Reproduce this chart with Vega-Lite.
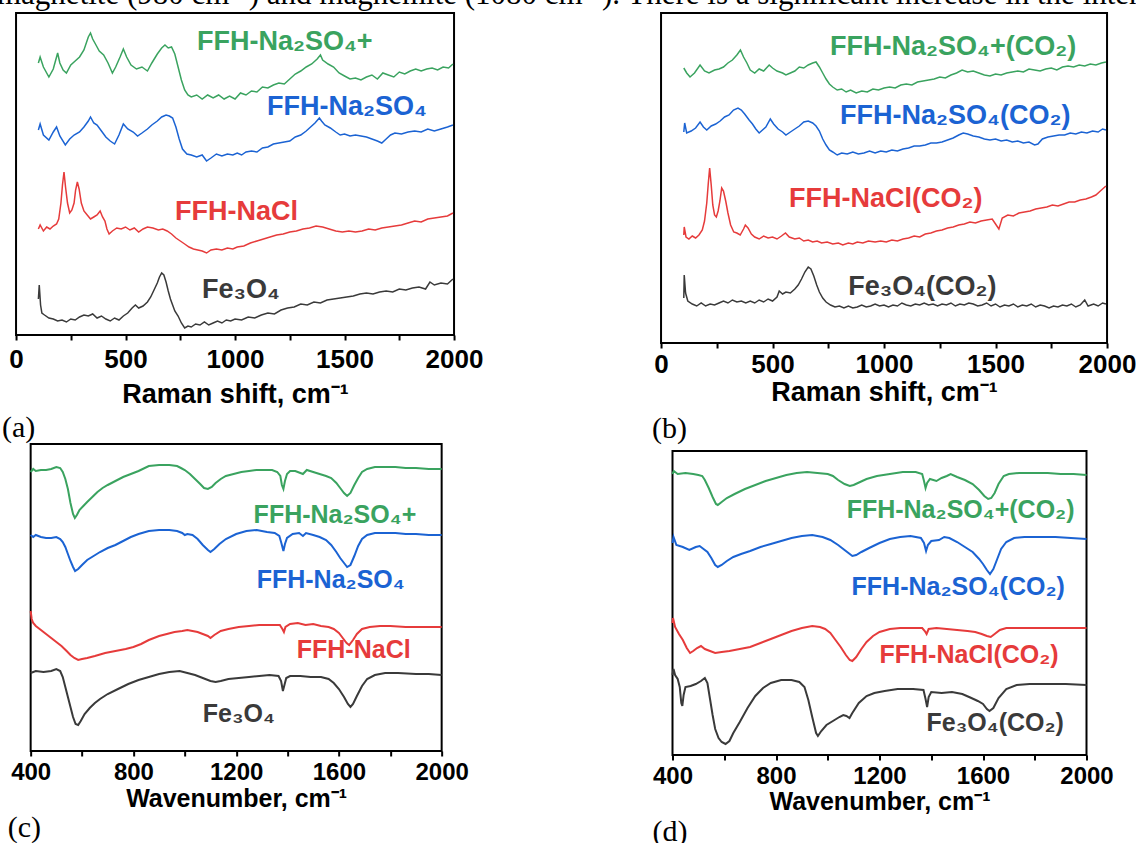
{
"$schema":"https://vega.github.io/schema/vega-lite/v6.json",
"background":"white",
"padding":{"left":-3,"top":-21,"right":0,"bottom":-4},
"title":{"text":"magnetite (980 cm⁻¹) and maghemite (1080 cm⁻¹). There is a significant increase in the intens","anchor":"start","frame":"group","dx":-19,"fontSize":31,"baseline":"alphabetic","offset":-23},
"config":{
"view":{"stroke":"black","strokeWidth":2},
"axis":{"labelFont":"Liberation Sans","labelFontWeight":"bold","labelColor":"black","titleFont":"Liberation Sans","titleFontWeight":"bold","titleColor":"black","tickColor":"black","tickWidth":2,"tickSize":5,"domain":false,"grid":false,"labelFlush":false,"labelOverlap":false},
"title":{"font":"Liberation Serif","fontWeight":"normal","color":"black"}
},
"datasets":{
"ra":[
{"x":102,"y":272,"s":"g"},{"x":110,"y":278,"s":"g"},{"x":125,"y":268,"s":"g"},{"x":150,"y":258,"s":"g"},{"x":170,"y":266,"s":"g"},{"x":190,"y":282,"s":"g"},{"x":200,"y":272,"s":"g"},{"x":215,"y":265,"s":"g"},{"x":230,"y":262,"s":"g"},{"x":250,"y":270,"s":"g"},{"x":270,"y":274,"s":"g"},{"x":290,"y":278,"s":"g"},{"x":310,"y":285,"s":"g"},{"x":330,"y":298,"s":"g"},{"x":340,"y":302,"s":"g"},{"x":350,"y":296,"s":"g"},{"x":365,"y":290,"s":"g"},{"x":380,"y":284,"s":"g"},{"x":400,"y":280,"s":"g"},{"x":420,"y":272,"s":"g"},{"x":440,"y":262,"s":"g"},{"x":455,"y":268,"s":"g"},{"x":475,"y":278,"s":"g"},{"x":490,"y":286,"s":"g"},{"x":505,"y":278,"s":"g"},{"x":525,"y":270,"s":"g"},{"x":550,"y":266,"s":"g"},{"x":575,"y":268,"s":"g"},{"x":600,"y":264,"s":"g"},{"x":620,"y":272,"s":"g"},{"x":645,"y":281,"s":"g"},{"x":665,"y":287,"s":"g"},{"x":680,"y":290,"s":"g"},{"x":695,"y":287,"s":"g"},{"x":710,"y":288,"s":"g"},{"x":725,"y":281,"s":"g"},{"x":740,"y":268,"s":"g"},{"x":755,"y":255,"s":"g"},{"x":770,"y":245,"s":"g"},{"x":785,"y":240,"s":"g"},{"x":800,"y":238,"s":"g"},{"x":825,"y":240,"s":"g"},{"x":850,"y":236,"s":"g"},{"x":875,"y":240,"s":"g"},{"x":900,"y":237,"s":"g"},{"x":925,"y":240,"s":"g"},{"x":950,"y":236,"s":"g"},{"x":975,"y":239,"s":"g"},{"x":1000,"y":236,"s":"g"},{"x":1025,"y":242,"s":"g"},{"x":1050,"y":240,"s":"g"},{"x":1075,"y":244,"s":"g"},{"x":1100,"y":243,"s":"g"},{"x":1125,"y":248,"s":"g"},{"x":1150,"y":247,"s":"g"},{"x":1175,"y":250,"s":"g"},{"x":1200,"y":252,"s":"g"},{"x":1225,"y":251,"s":"g"},{"x":1250,"y":256,"s":"g"},{"x":1275,"y":261,"s":"g"},{"x":1300,"y":264,"s":"g"},{"x":1325,"y":268,"s":"g"},{"x":1350,"y":271,"s":"g"},{"x":1375,"y":276,"s":"g"},{"x":1390,"y":280,"s":"g"},{"x":1400,"y":275,"s":"g"},{"x":1425,"y":271,"s":"g"},{"x":1450,"y":268,"s":"g"},{"x":1475,"y":262,"s":"g"},{"x":1500,"y":259,"s":"g"},{"x":1525,"y":256,"s":"g"},{"x":1550,"y":257,"s":"g"},{"x":1575,"y":255,"s":"g"},{"x":1600,"y":258,"s":"g"},{"x":1625,"y":260,"s":"g"},{"x":1650,"y":256,"s":"g"},{"x":1675,"y":262,"s":"g"},{"x":1700,"y":260,"s":"g"},{"x":1725,"y":258,"s":"g"},{"x":1750,"y":263,"s":"g"},{"x":1775,"y":261,"s":"g"},{"x":1800,"y":264,"s":"g"},{"x":1825,"y":266,"s":"g"},{"x":1850,"y":264,"s":"g"},{"x":1875,"y":266,"s":"g"},{"x":1900,"y":267,"s":"g"},{"x":1925,"y":265,"s":"g"},{"x":1950,"y":268,"s":"g"},{"x":1975,"y":267,"s":"g"},{"x":1995,"y":271,"s":"g"},
{"x":102,"y":205,"s":"b"},{"x":110,"y":211,"s":"b"},{"x":125,"y":200,"s":"b"},{"x":150,"y":195,"s":"b"},{"x":170,"y":203,"s":"b"},{"x":185,"y":208,"s":"b"},{"x":200,"y":199,"s":"b"},{"x":225,"y":190,"s":"b"},{"x":245,"y":196,"s":"b"},{"x":265,"y":200,"s":"b"},{"x":290,"y":203,"s":"b"},{"x":310,"y":208,"s":"b"},{"x":330,"y":214,"s":"b"},{"x":340,"y":218,"s":"b"},{"x":355,"y":212,"s":"b"},{"x":370,"y":210,"s":"b"},{"x":390,"y":204,"s":"b"},{"x":410,"y":198,"s":"b"},{"x":430,"y":194,"s":"b"},{"x":450,"y":191,"s":"b"},{"x":470,"y":200,"s":"b"},{"x":490,"y":211,"s":"b"},{"x":510,"y":206,"s":"b"},{"x":535,"y":203,"s":"b"},{"x":555,"y":199,"s":"b"},{"x":575,"y":202,"s":"b"},{"x":600,"y":206,"s":"b"},{"x":620,"y":210,"s":"b"},{"x":645,"y":214,"s":"b"},{"x":665,"y":218,"s":"b"},{"x":685,"y":220,"s":"b"},{"x":700,"y":219,"s":"b"},{"x":715,"y":217,"s":"b"},{"x":730,"y":208,"s":"b"},{"x":745,"y":196,"s":"b"},{"x":760,"y":186,"s":"b"},{"x":780,"y":181,"s":"b"},{"x":800,"y":180,"s":"b"},{"x":825,"y":178,"s":"b"},{"x":850,"y":180,"s":"b"},{"x":870,"y":174,"s":"b"},{"x":890,"y":177,"s":"b"},{"x":915,"y":181,"s":"b"},{"x":940,"y":179,"s":"b"},{"x":965,"y":181,"s":"b"},{"x":990,"y":180,"s":"b"},{"x":1010,"y":182,"s":"b"},{"x":1030,"y":180,"s":"b"},{"x":1050,"y":183,"s":"b"},{"x":1075,"y":184,"s":"b"},{"x":1100,"y":183,"s":"b"},{"x":1125,"y":187,"s":"b"},{"x":1150,"y":188,"s":"b"},{"x":1175,"y":191,"s":"b"},{"x":1200,"y":192,"s":"b"},{"x":1225,"y":193,"s":"b"},{"x":1250,"y":194,"s":"b"},{"x":1275,"y":198,"s":"b"},{"x":1300,"y":200,"s":"b"},{"x":1325,"y":204,"s":"b"},{"x":1345,"y":208,"s":"b"},{"x":1365,"y":212,"s":"b"},{"x":1385,"y":217,"s":"b"},{"x":1395,"y":214,"s":"b"},{"x":1410,"y":210,"s":"b"},{"x":1435,"y":207,"s":"b"},{"x":1460,"y":203,"s":"b"},{"x":1480,"y":200,"s":"b"},{"x":1500,"y":201,"s":"b"},{"x":1525,"y":199,"s":"b"},{"x":1550,"y":200,"s":"b"},{"x":1575,"y":199,"s":"b"},{"x":1600,"y":198,"s":"b"},{"x":1625,"y":196,"s":"b"},{"x":1650,"y":194,"s":"b"},{"x":1670,"y":192,"s":"b"},{"x":1690,"y":196,"s":"b"},{"x":1710,"y":200,"s":"b"},{"x":1730,"y":202,"s":"b"},{"x":1760,"y":201,"s":"b"},{"x":1790,"y":203,"s":"b"},{"x":1820,"y":204,"s":"b"},{"x":1850,"y":203,"s":"b"},{"x":1880,"y":206,"s":"b"},{"x":1910,"y":204,"s":"b"},{"x":1940,"y":206,"s":"b"},{"x":1970,"y":208,"s":"b"},{"x":1995,"y":210,"s":"b"},
{"x":102,"y":106,"s":"r"},{"x":110,"y":110,"s":"r"},{"x":125,"y":104,"s":"r"},{"x":140,"y":108,"s":"r"},{"x":155,"y":106,"s":"r"},{"x":170,"y":109,"s":"r"},{"x":185,"y":111,"s":"r"},{"x":195,"y":116,"s":"r"},{"x":205,"y":132,"s":"r"},{"x":212,"y":150,"s":"r"},{"x":219,"y":163,"s":"r"},{"x":226,"y":148,"s":"r"},{"x":235,"y":132,"s":"r"},{"x":245,"y":122,"s":"r"},{"x":255,"y":125,"s":"r"},{"x":265,"y":132,"s":"r"},{"x":272,"y":145,"s":"r"},{"x":280,"y":153,"s":"r"},{"x":288,"y":146,"s":"r"},{"x":298,"y":132,"s":"r"},{"x":310,"y":124,"s":"r"},{"x":325,"y":120,"s":"r"},{"x":340,"y":116,"s":"r"},{"x":355,"y":118,"s":"r"},{"x":370,"y":120,"s":"r"},{"x":384,"y":124,"s":"r"},{"x":395,"y":118,"s":"r"},{"x":406,"y":114,"s":"r"},{"x":415,"y":106,"s":"r"},{"x":425,"y":101,"s":"r"},{"x":440,"y":104,"s":"r"},{"x":460,"y":107,"s":"r"},{"x":480,"y":106,"s":"r"},{"x":500,"y":108,"s":"r"},{"x":520,"y":105,"s":"r"},{"x":540,"y":107,"s":"r"},{"x":560,"y":103,"s":"r"},{"x":580,"y":106,"s":"r"},{"x":600,"y":108,"s":"r"},{"x":625,"y":107,"s":"r"},{"x":650,"y":105,"s":"r"},{"x":670,"y":106,"s":"r"},{"x":690,"y":104,"s":"r"},{"x":710,"y":101,"s":"r"},{"x":730,"y":97,"s":"r"},{"x":750,"y":94,"s":"r"},{"x":770,"y":91,"s":"r"},{"x":790,"y":88,"s":"r"},{"x":810,"y":86,"s":"r"},{"x":830,"y":85,"s":"r"},{"x":850,"y":84,"s":"r"},{"x":870,"y":82,"s":"r"},{"x":890,"y":85,"s":"r"},{"x":915,"y":86,"s":"r"},{"x":940,"y":85,"s":"r"},{"x":965,"y":87,"s":"r"},{"x":990,"y":86,"s":"r"},{"x":1010,"y":88,"s":"r"},{"x":1040,"y":89,"s":"r"},{"x":1070,"y":92,"s":"r"},{"x":1100,"y":94,"s":"r"},{"x":1130,"y":96,"s":"r"},{"x":1160,"y":98,"s":"r"},{"x":1190,"y":100,"s":"r"},{"x":1220,"y":101,"s":"r"},{"x":1250,"y":103,"s":"r"},{"x":1280,"y":104,"s":"r"},{"x":1310,"y":106,"s":"r"},{"x":1340,"y":107,"s":"r"},{"x":1370,"y":109,"s":"r"},{"x":1400,"y":108,"s":"r"},{"x":1430,"y":106,"s":"r"},{"x":1460,"y":104,"s":"r"},{"x":1490,"y":103,"s":"r"},{"x":1520,"y":104,"s":"r"},{"x":1550,"y":103,"s":"r"},{"x":1580,"y":104,"s":"r"},{"x":1610,"y":106,"s":"r"},{"x":1640,"y":105,"s":"r"},{"x":1670,"y":107,"s":"r"},{"x":1700,"y":108,"s":"r"},{"x":1730,"y":109,"s":"r"},{"x":1760,"y":110,"s":"r"},{"x":1790,"y":112,"s":"r"},{"x":1820,"y":114,"s":"r"},{"x":1850,"y":113,"s":"r"},{"x":1880,"y":116,"s":"r"},{"x":1910,"y":117,"s":"r"},{"x":1940,"y":118,"s":"r"},{"x":1970,"y":119,"s":"r"},{"x":1995,"y":122,"s":"r"},
{"x":102,"y":36,"s":"k"},{"x":106,"y":50,"s":"k"},{"x":112,"y":30,"s":"k"},{"x":118,"y":22,"s":"k"},{"x":130,"y":20,"s":"k"},{"x":150,"y":17,"s":"k"},{"x":170,"y":16,"s":"k"},{"x":190,"y":14,"s":"k"},{"x":210,"y":15,"s":"k"},{"x":230,"y":13,"s":"k"},{"x":250,"y":16,"s":"k"},{"x":270,"y":15,"s":"k"},{"x":290,"y":18,"s":"k"},{"x":310,"y":20,"s":"k"},{"x":330,"y":19,"s":"k"},{"x":350,"y":21,"s":"k"},{"x":370,"y":17,"s":"k"},{"x":390,"y":19,"s":"k"},{"x":410,"y":16,"s":"k"},{"x":430,"y":14,"s":"k"},{"x":450,"y":17,"s":"k"},{"x":470,"y":15,"s":"k"},{"x":490,"y":19,"s":"k"},{"x":510,"y":22,"s":"k"},{"x":530,"y":27,"s":"k"},{"x":545,"y":30,"s":"k"},{"x":560,"y":27,"s":"k"},{"x":580,"y":29,"s":"k"},{"x":600,"y":33,"s":"k"},{"x":615,"y":38,"s":"k"},{"x":630,"y":45,"s":"k"},{"x":645,"y":52,"s":"k"},{"x":655,"y":58,"s":"k"},{"x":665,"y":62,"s":"k"},{"x":675,"y":60,"s":"k"},{"x":685,"y":53,"s":"k"},{"x":695,"y":44,"s":"k"},{"x":705,"y":36,"s":"k"},{"x":715,"y":30,"s":"k"},{"x":725,"y":24,"s":"k"},{"x":740,"y":19,"s":"k"},{"x":755,"y":12,"s":"k"},{"x":770,"y":7,"s":"k"},{"x":785,"y":9,"s":"k"},{"x":800,"y":8,"s":"k"},{"x":820,"y":11,"s":"k"},{"x":840,"y":10,"s":"k"},{"x":860,"y":13,"s":"k"},{"x":880,"y":10,"s":"k"},{"x":900,"y":12,"s":"k"},{"x":920,"y":14,"s":"k"},{"x":940,"y":12,"s":"k"},{"x":960,"y":15,"s":"k"},{"x":980,"y":14,"s":"k"},{"x":1000,"y":16,"s":"k"},{"x":1030,"y":15,"s":"k"},{"x":1060,"y":18,"s":"k"},{"x":1090,"y":17,"s":"k"},{"x":1120,"y":20,"s":"k"},{"x":1150,"y":22,"s":"k"},{"x":1180,"y":21,"s":"k"},{"x":1210,"y":25,"s":"k"},{"x":1240,"y":27,"s":"k"},{"x":1270,"y":28,"s":"k"},{"x":1300,"y":31,"s":"k"},{"x":1330,"y":30,"s":"k"},{"x":1360,"y":33,"s":"k"},{"x":1390,"y":32,"s":"k"},{"x":1420,"y":35,"s":"k"},{"x":1450,"y":36,"s":"k"},{"x":1480,"y":37,"s":"k"},{"x":1510,"y":38,"s":"k"},{"x":1540,"y":39,"s":"k"},{"x":1570,"y":41,"s":"k"},{"x":1600,"y":42,"s":"k"},{"x":1630,"y":41,"s":"k"},{"x":1660,"y":43,"s":"k"},{"x":1690,"y":44,"s":"k"},{"x":1720,"y":43,"s":"k"},{"x":1750,"y":46,"s":"k"},{"x":1780,"y":45,"s":"k"},{"x":1810,"y":47,"s":"k"},{"x":1840,"y":48,"s":"k"},{"x":1870,"y":46,"s":"k"},{"x":1890,"y":53,"s":"k"},{"x":1910,"y":50,"s":"k"},{"x":1940,"y":52,"s":"k"},{"x":1970,"y":51,"s":"k"},{"x":1995,"y":56,"s":"k"}
],
"rb":[
{"x":102,"y":275,"s":"g"},{"x":115,"y":270,"s":"g"},{"x":130,"y":266,"s":"g"},{"x":150,"y":270,"s":"g"},{"x":175,"y":278,"s":"g"},{"x":195,"y":272,"s":"g"},{"x":215,"y":270,"s":"g"},{"x":240,"y":273,"s":"g"},{"x":260,"y":274,"s":"g"},{"x":280,"y":276,"s":"g"},{"x":300,"y":280,"s":"g"},{"x":320,"y":283,"s":"g"},{"x":340,"y":288,"s":"g"},{"x":356,"y":293,"s":"g"},{"x":370,"y":286,"s":"g"},{"x":385,"y":280,"s":"g"},{"x":400,"y":273,"s":"g"},{"x":420,"y":270,"s":"g"},{"x":440,"y":274,"s":"g"},{"x":460,"y":272,"s":"g"},{"x":485,"y":278,"s":"g"},{"x":500,"y":275,"s":"g"},{"x":520,"y":272,"s":"g"},{"x":545,"y":270,"s":"g"},{"x":560,"y":268,"s":"g"},{"x":580,"y":270,"s":"g"},{"x":600,"y":272,"s":"g"},{"x":620,"y":276,"s":"g"},{"x":640,"y":275,"s":"g"},{"x":660,"y":278,"s":"g"},{"x":680,"y":280,"s":"g"},{"x":695,"y":281,"s":"g"},{"x":710,"y":276,"s":"g"},{"x":725,"y":270,"s":"g"},{"x":740,"y":264,"s":"g"},{"x":755,"y":259,"s":"g"},{"x":770,"y":256,"s":"g"},{"x":790,"y":253,"s":"g"},{"x":810,"y":254,"s":"g"},{"x":830,"y":251,"s":"g"},{"x":850,"y":253,"s":"g"},{"x":875,"y":250,"s":"g"},{"x":900,"y":252,"s":"g"},{"x":925,"y":251,"s":"g"},{"x":950,"y":254,"s":"g"},{"x":975,"y":253,"s":"g"},{"x":1000,"y":255,"s":"g"},{"x":1025,"y":256,"s":"g"},{"x":1050,"y":255,"s":"g"},{"x":1075,"y":258,"s":"g"},{"x":1100,"y":259,"s":"g"},{"x":1125,"y":258,"s":"g"},{"x":1150,"y":261,"s":"g"},{"x":1175,"y":262,"s":"g"},{"x":1200,"y":263,"s":"g"},{"x":1225,"y":264,"s":"g"},{"x":1250,"y":266,"s":"g"},{"x":1275,"y":265,"s":"g"},{"x":1300,"y":268,"s":"g"},{"x":1325,"y":270,"s":"g"},{"x":1350,"y":273,"s":"g"},{"x":1375,"y":271,"s":"g"},{"x":1400,"y":272,"s":"g"},{"x":1425,"y":270,"s":"g"},{"x":1450,"y":268,"s":"g"},{"x":1475,"y":267,"s":"g"},{"x":1500,"y":269,"s":"g"},{"x":1525,"y":268,"s":"g"},{"x":1550,"y":270,"s":"g"},{"x":1575,"y":271,"s":"g"},{"x":1600,"y":272,"s":"g"},{"x":1625,"y":271,"s":"g"},{"x":1650,"y":274,"s":"g"},{"x":1675,"y":273,"s":"g"},{"x":1700,"y":272,"s":"g"},{"x":1725,"y":274,"s":"g"},{"x":1750,"y":275,"s":"g"},{"x":1775,"y":273,"s":"g"},{"x":1800,"y":276,"s":"g"},{"x":1825,"y":277,"s":"g"},{"x":1850,"y":276,"s":"g"},{"x":1875,"y":278,"s":"g"},{"x":1900,"y":277,"s":"g"},{"x":1925,"y":279,"s":"g"},{"x":1950,"y":278,"s":"g"},{"x":1975,"y":280,"s":"g"},{"x":1995,"y":281,"s":"g"},
{"x":102,"y":211,"s":"b"},{"x":106,"y":220,"s":"b"},{"x":115,"y":210,"s":"b"},{"x":135,"y":212,"s":"b"},{"x":155,"y":215,"s":"b"},{"x":175,"y":221,"s":"b"},{"x":190,"y":216,"s":"b"},{"x":205,"y":213,"s":"b"},{"x":225,"y":217,"s":"b"},{"x":245,"y":219,"s":"b"},{"x":265,"y":222,"s":"b"},{"x":285,"y":226,"s":"b"},{"x":305,"y":228,"s":"b"},{"x":325,"y":233,"s":"b"},{"x":345,"y":235,"s":"b"},{"x":360,"y":233,"s":"b"},{"x":375,"y":229,"s":"b"},{"x":395,"y":223,"s":"b"},{"x":410,"y":219,"s":"b"},{"x":425,"y":214,"s":"b"},{"x":440,"y":210,"s":"b"},{"x":455,"y":213,"s":"b"},{"x":470,"y":216,"s":"b"},{"x":490,"y":224,"s":"b"},{"x":505,"y":219,"s":"b"},{"x":525,"y":214,"s":"b"},{"x":545,"y":211,"s":"b"},{"x":560,"y":208,"s":"b"},{"x":580,"y":211,"s":"b"},{"x":600,"y":214,"s":"b"},{"x":620,"y":217,"s":"b"},{"x":640,"y":221,"s":"b"},{"x":660,"y":222,"s":"b"},{"x":680,"y":220,"s":"b"},{"x":695,"y":217,"s":"b"},{"x":710,"y":212,"s":"b"},{"x":725,"y":204,"s":"b"},{"x":740,"y":198,"s":"b"},{"x":755,"y":193,"s":"b"},{"x":770,"y":191,"s":"b"},{"x":790,"y":188,"s":"b"},{"x":810,"y":190,"s":"b"},{"x":835,"y":189,"s":"b"},{"x":860,"y":191,"s":"b"},{"x":885,"y":189,"s":"b"},{"x":910,"y":190,"s":"b"},{"x":935,"y":192,"s":"b"},{"x":960,"y":190,"s":"b"},{"x":985,"y":192,"s":"b"},{"x":1010,"y":191,"s":"b"},{"x":1035,"y":193,"s":"b"},{"x":1060,"y":192,"s":"b"},{"x":1085,"y":194,"s":"b"},{"x":1110,"y":195,"s":"b"},{"x":1135,"y":197,"s":"b"},{"x":1160,"y":197,"s":"b"},{"x":1185,"y":198,"s":"b"},{"x":1210,"y":200,"s":"b"},{"x":1235,"y":200,"s":"b"},{"x":1260,"y":201,"s":"b"},{"x":1285,"y":203,"s":"b"},{"x":1310,"y":205,"s":"b"},{"x":1335,"y":208,"s":"b"},{"x":1355,"y":210,"s":"b"},{"x":1375,"y":209,"s":"b"},{"x":1400,"y":207,"s":"b"},{"x":1425,"y":206,"s":"b"},{"x":1450,"y":204,"s":"b"},{"x":1475,"y":203,"s":"b"},{"x":1500,"y":204,"s":"b"},{"x":1525,"y":202,"s":"b"},{"x":1550,"y":203,"s":"b"},{"x":1575,"y":201,"s":"b"},{"x":1600,"y":202,"s":"b"},{"x":1625,"y":200,"s":"b"},{"x":1650,"y":201,"s":"b"},{"x":1675,"y":198,"s":"b"},{"x":1690,"y":199,"s":"b"},{"x":1710,"y":204,"s":"b"},{"x":1735,"y":206,"s":"b"},{"x":1760,"y":207,"s":"b"},{"x":1785,"y":208,"s":"b"},{"x":1810,"y":208,"s":"b"},{"x":1835,"y":210,"s":"b"},{"x":1860,"y":209,"s":"b"},{"x":1885,"y":211,"s":"b"},{"x":1910,"y":210,"s":"b"},{"x":1935,"y":212,"s":"b"},{"x":1960,"y":211,"s":"b"},{"x":1980,"y":214,"s":"b"},{"x":1995,"y":213,"s":"b"},
{"x":102,"y":108,"s":"r"},{"x":104,"y":116,"s":"r"},{"x":112,"y":106,"s":"r"},{"x":125,"y":104,"s":"r"},{"x":140,"y":107,"s":"r"},{"x":155,"y":105,"s":"r"},{"x":170,"y":108,"s":"r"},{"x":185,"y":113,"s":"r"},{"x":195,"y":122,"s":"r"},{"x":205,"y":140,"s":"r"},{"x":212,"y":160,"s":"r"},{"x":218,"y":175,"s":"r"},{"x":225,"y":158,"s":"r"},{"x":232,"y":138,"s":"r"},{"x":240,"y":128,"s":"r"},{"x":248,"y":126,"s":"r"},{"x":256,"y":132,"s":"r"},{"x":264,"y":142,"s":"r"},{"x":272,"y":155,"s":"r"},{"x":280,"y":152,"s":"r"},{"x":290,"y":142,"s":"r"},{"x":300,"y":130,"s":"r"},{"x":312,"y":118,"s":"r"},{"x":326,"y":111,"s":"r"},{"x":340,"y":110,"s":"r"},{"x":355,"y":108,"s":"r"},{"x":370,"y":114,"s":"r"},{"x":378,"y":118,"s":"r"},{"x":390,"y":115,"s":"r"},{"x":405,"y":109,"s":"r"},{"x":420,"y":106,"s":"r"},{"x":440,"y":104,"s":"r"},{"x":460,"y":107,"s":"r"},{"x":480,"y":105,"s":"r"},{"x":500,"y":106,"s":"r"},{"x":520,"y":104,"s":"r"},{"x":540,"y":107,"s":"r"},{"x":558,"y":110,"s":"r"},{"x":575,"y":106,"s":"r"},{"x":600,"y":104,"s":"r"},{"x":620,"y":105,"s":"r"},{"x":640,"y":102,"s":"r"},{"x":660,"y":103,"s":"r"},{"x":680,"y":101,"s":"r"},{"x":700,"y":102,"s":"r"},{"x":720,"y":100,"s":"r"},{"x":745,"y":101,"s":"r"},{"x":770,"y":99,"s":"r"},{"x":795,"y":100,"s":"r"},{"x":815,"y":98,"s":"r"},{"x":840,"y":100,"s":"r"},{"x":860,"y":99,"s":"r"},{"x":880,"y":101,"s":"r"},{"x":905,"y":100,"s":"r"},{"x":930,"y":102,"s":"r"},{"x":960,"y":101,"s":"r"},{"x":985,"y":102,"s":"r"},{"x":1010,"y":101,"s":"r"},{"x":1035,"y":103,"s":"r"},{"x":1060,"y":102,"s":"r"},{"x":1085,"y":104,"s":"r"},{"x":1110,"y":105,"s":"r"},{"x":1135,"y":107,"s":"r"},{"x":1160,"y":106,"s":"r"},{"x":1185,"y":109,"s":"r"},{"x":1210,"y":110,"s":"r"},{"x":1235,"y":112,"s":"r"},{"x":1260,"y":113,"s":"r"},{"x":1285,"y":115,"s":"r"},{"x":1310,"y":116,"s":"r"},{"x":1335,"y":118,"s":"r"},{"x":1360,"y":119,"s":"r"},{"x":1385,"y":121,"s":"r"},{"x":1410,"y":120,"s":"r"},{"x":1435,"y":122,"s":"r"},{"x":1460,"y":123,"s":"r"},{"x":1485,"y":124,"s":"r"},{"x":1500,"y":119,"s":"r"},{"x":1515,"y":114,"s":"r"},{"x":1530,"y":125,"s":"r"},{"x":1555,"y":128,"s":"r"},{"x":1580,"y":127,"s":"r"},{"x":1605,"y":130,"s":"r"},{"x":1630,"y":131,"s":"r"},{"x":1655,"y":132,"s":"r"},{"x":1680,"y":134,"s":"r"},{"x":1705,"y":135,"s":"r"},{"x":1730,"y":136,"s":"r"},{"x":1755,"y":138,"s":"r"},{"x":1780,"y":137,"s":"r"},{"x":1805,"y":139,"s":"r"},{"x":1830,"y":141,"s":"r"},{"x":1855,"y":141,"s":"r"},{"x":1880,"y":143,"s":"r"},{"x":1905,"y":144,"s":"r"},{"x":1930,"y":146,"s":"r"},{"x":1950,"y":148,"s":"r"},{"x":1970,"y":152,"s":"r"},{"x":1985,"y":155,"s":"r"},{"x":1995,"y":157,"s":"r"},
{"x":102,"y":45,"s":"k"},{"x":104,"y":68,"s":"k"},{"x":110,"y":50,"s":"k"},{"x":120,"y":42,"s":"k"},{"x":140,"y":39,"s":"k"},{"x":160,"y":37,"s":"k"},{"x":180,"y":40,"s":"k"},{"x":200,"y":37,"s":"k"},{"x":220,"y":39,"s":"k"},{"x":240,"y":38,"s":"k"},{"x":260,"y":40,"s":"k"},{"x":280,"y":42,"s":"k"},{"x":300,"y":40,"s":"k"},{"x":320,"y":43,"s":"k"},{"x":340,"y":41,"s":"k"},{"x":360,"y":42,"s":"k"},{"x":380,"y":40,"s":"k"},{"x":400,"y":42,"s":"k"},{"x":420,"y":40,"s":"k"},{"x":440,"y":43,"s":"k"},{"x":460,"y":41,"s":"k"},{"x":480,"y":44,"s":"k"},{"x":500,"y":42,"s":"k"},{"x":520,"y":46,"s":"k"},{"x":530,"y":52,"s":"k"},{"x":545,"y":49,"s":"k"},{"x":560,"y":51,"s":"k"},{"x":580,"y":50,"s":"k"},{"x":600,"y":54,"s":"k"},{"x":615,"y":58,"s":"k"},{"x":630,"y":64,"s":"k"},{"x":645,"y":71,"s":"k"},{"x":660,"y":76,"s":"k"},{"x":672,"y":74,"s":"k"},{"x":685,"y":67,"s":"k"},{"x":698,"y":58,"s":"k"},{"x":710,"y":51,"s":"k"},{"x":725,"y":45,"s":"k"},{"x":740,"y":41,"s":"k"},{"x":760,"y":38,"s":"k"},{"x":780,"y":36,"s":"k"},{"x":800,"y":37,"s":"k"},{"x":820,"y":35,"s":"k"},{"x":840,"y":37,"s":"k"},{"x":860,"y":35,"s":"k"},{"x":880,"y":36,"s":"k"},{"x":900,"y":38,"s":"k"},{"x":920,"y":36,"s":"k"},{"x":940,"y":37,"s":"k"},{"x":960,"y":39,"s":"k"},{"x":980,"y":37,"s":"k"},{"x":1000,"y":38,"s":"k"},{"x":1020,"y":36,"s":"k"},{"x":1040,"y":38,"s":"k"},{"x":1060,"y":37,"s":"k"},{"x":1080,"y":40,"s":"k"},{"x":1100,"y":38,"s":"k"},{"x":1120,"y":37,"s":"k"},{"x":1140,"y":39,"s":"k"},{"x":1160,"y":38,"s":"k"},{"x":1180,"y":40,"s":"k"},{"x":1200,"y":38,"s":"k"},{"x":1220,"y":39,"s":"k"},{"x":1240,"y":37,"s":"k"},{"x":1260,"y":39,"s":"k"},{"x":1280,"y":38,"s":"k"},{"x":1300,"y":40,"s":"k"},{"x":1320,"y":37,"s":"k"},{"x":1340,"y":39,"s":"k"},{"x":1360,"y":38,"s":"k"},{"x":1380,"y":40,"s":"k"},{"x":1400,"y":39,"s":"k"},{"x":1420,"y":37,"s":"k"},{"x":1440,"y":38,"s":"k"},{"x":1460,"y":40,"s":"k"},{"x":1480,"y":37,"s":"k"},{"x":1500,"y":39,"s":"k"},{"x":1520,"y":36,"s":"k"},{"x":1540,"y":38,"s":"k"},{"x":1560,"y":37,"s":"k"},{"x":1580,"y":39,"s":"k"},{"x":1600,"y":36,"s":"k"},{"x":1620,"y":38,"s":"k"},{"x":1640,"y":37,"s":"k"},{"x":1660,"y":39,"s":"k"},{"x":1680,"y":36,"s":"k"},{"x":1700,"y":38,"s":"k"},{"x":1720,"y":37,"s":"k"},{"x":1740,"y":35,"s":"k"},{"x":1760,"y":37,"s":"k"},{"x":1780,"y":36,"s":"k"},{"x":1800,"y":38,"s":"k"},{"x":1820,"y":37,"s":"k"},{"x":1840,"y":39,"s":"k"},{"x":1860,"y":36,"s":"k"},{"x":1880,"y":38,"s":"k"},{"x":1900,"y":43,"s":"k"},{"x":1915,"y":37,"s":"k"},{"x":1940,"y":39,"s":"k"},{"x":1960,"y":37,"s":"k"},{"x":1980,"y":40,"s":"k"},{"x":1995,"y":39,"s":"k"}
],
"fc":[
{"x":400,"y":279,"s":"g"},{"x":410,"y":282,"s":"g"},{"x":420,"y":280,"s":"g"},{"x":440,"y":281,"s":"g"},{"x":460,"y":281,"s":"g"},{"x":480,"y":282,"s":"g"},{"x":500,"y":284,"s":"g"},{"x":515,"y":283,"s":"g"},{"x":525,"y":279,"s":"g"},{"x":535,"y":272,"s":"g"},{"x":545,"y":262,"s":"g"},{"x":555,"y":248,"s":"g"},{"x":565,"y":237,"s":"g"},{"x":572,"y":233,"s":"g"},{"x":580,"y":236,"s":"g"},{"x":590,"y":241,"s":"g"},{"x":605,"y":245,"s":"g"},{"x":620,"y":249,"s":"g"},{"x":640,"y":254,"s":"g"},{"x":660,"y":259,"s":"g"},{"x":680,"y":263,"s":"g"},{"x":700,"y":266,"s":"g"},{"x":730,"y":270,"s":"g"},{"x":760,"y":274,"s":"g"},{"x":790,"y":277,"s":"g"},{"x":820,"y":280,"s":"g"},{"x":860,"y":285,"s":"g"},{"x":900,"y":286,"s":"g"},{"x":940,"y":286,"s":"g"},{"x":970,"y":285,"s":"g"},{"x":985,"y":283,"s":"g"},{"x":1000,"y":281,"s":"g"},{"x":1020,"y":277,"s":"g"},{"x":1040,"y":272,"s":"g"},{"x":1060,"y":267,"s":"g"},{"x":1075,"y":263,"s":"g"},{"x":1090,"y":262,"s":"g"},{"x":1105,"y":264,"s":"g"},{"x":1120,"y":268,"s":"g"},{"x":1140,"y":272,"s":"g"},{"x":1160,"y":275,"s":"g"},{"x":1190,"y":277,"s":"g"},{"x":1220,"y":279,"s":"g"},{"x":1250,"y":280,"s":"g"},{"x":1280,"y":281,"s":"g"},{"x":1310,"y":281,"s":"g"},{"x":1340,"y":281,"s":"g"},{"x":1360,"y":279,"s":"g"},{"x":1372,"y":275,"s":"g"},{"x":1378,"y":266,"s":"g"},{"x":1384,"y":262,"s":"g"},{"x":1390,"y":270,"s":"g"},{"x":1398,"y":277,"s":"g"},{"x":1410,"y":280,"s":"g"},{"x":1430,"y":280,"s":"g"},{"x":1450,"y":278,"s":"g"},{"x":1460,"y":277,"s":"g"},{"x":1475,"y":281,"s":"g"},{"x":1500,"y":279,"s":"g"},{"x":1525,"y":277,"s":"g"},{"x":1550,"y":275,"s":"g"},{"x":1570,"y":273,"s":"g"},{"x":1590,"y":268,"s":"g"},{"x":1605,"y":263,"s":"g"},{"x":1620,"y":258,"s":"g"},{"x":1632,"y":255,"s":"g"},{"x":1645,"y":258,"s":"g"},{"x":1660,"y":266,"s":"g"},{"x":1675,"y":273,"s":"g"},{"x":1690,"y":279,"s":"g"},{"x":1710,"y":282,"s":"g"},{"x":1740,"y":284,"s":"g"},{"x":1780,"y":284,"s":"g"},{"x":1820,"y":284,"s":"g"},{"x":1860,"y":283,"s":"g"},{"x":1900,"y":283,"s":"g"},{"x":1950,"y":282,"s":"g"},{"x":2000,"y":282,"s":"g"},
{"x":400,"y":216,"s":"b"},{"x":410,"y":214,"s":"b"},{"x":420,"y":216,"s":"b"},{"x":440,"y":214,"s":"b"},{"x":460,"y":213,"s":"b"},{"x":480,"y":213,"s":"b"},{"x":500,"y":214,"s":"b"},{"x":515,"y":212,"s":"b"},{"x":525,"y":209,"s":"b"},{"x":535,"y":204,"s":"b"},{"x":545,"y":197,"s":"b"},{"x":555,"y":190,"s":"b"},{"x":565,"y":184,"s":"b"},{"x":573,"y":180,"s":"b"},{"x":585,"y":182,"s":"b"},{"x":600,"y":186,"s":"b"},{"x":620,"y":191,"s":"b"},{"x":645,"y":195,"s":"b"},{"x":670,"y":199,"s":"b"},{"x":700,"y":203,"s":"b"},{"x":730,"y":206,"s":"b"},{"x":760,"y":210,"s":"b"},{"x":790,"y":214,"s":"b"},{"x":820,"y":217,"s":"b"},{"x":860,"y":220,"s":"b"},{"x":900,"y":221,"s":"b"},{"x":940,"y":221,"s":"b"},{"x":970,"y":220,"s":"b"},{"x":990,"y":218,"s":"b"},{"x":1000,"y":216,"s":"b"},{"x":1010,"y":217,"s":"b"},{"x":1030,"y":216,"s":"b"},{"x":1050,"y":212,"s":"b"},{"x":1070,"y":206,"s":"b"},{"x":1090,"y":201,"s":"b"},{"x":1100,"y":199,"s":"b"},{"x":1115,"y":202,"s":"b"},{"x":1135,"y":207,"s":"b"},{"x":1160,"y":212,"s":"b"},{"x":1200,"y":217,"s":"b"},{"x":1240,"y":220,"s":"b"},{"x":1280,"y":221,"s":"b"},{"x":1320,"y":219,"s":"b"},{"x":1350,"y":218,"s":"b"},{"x":1368,"y":215,"s":"b"},{"x":1376,"y":208,"s":"b"},{"x":1384,"y":200,"s":"b"},{"x":1390,"y":207,"s":"b"},{"x":1398,"y":213,"s":"b"},{"x":1420,"y":217,"s":"b"},{"x":1445,"y":218,"s":"b"},{"x":1460,"y":215,"s":"b"},{"x":1472,"y":218,"s":"b"},{"x":1500,"y":216,"s":"b"},{"x":1525,"y":214,"s":"b"},{"x":1550,"y":211,"s":"b"},{"x":1570,"y":206,"s":"b"},{"x":1590,"y":199,"s":"b"},{"x":1605,"y":193,"s":"b"},{"x":1620,"y":188,"s":"b"},{"x":1632,"y":184,"s":"b"},{"x":1645,"y":186,"s":"b"},{"x":1660,"y":195,"s":"b"},{"x":1675,"y":205,"s":"b"},{"x":1690,"y":212,"s":"b"},{"x":1710,"y":216,"s":"b"},{"x":1740,"y":218,"s":"b"},{"x":1780,"y":218,"s":"b"},{"x":1820,"y":218,"s":"b"},{"x":1860,"y":217,"s":"b"},{"x":1900,"y":217,"s":"b"},{"x":1950,"y":216,"s":"b"},{"x":2000,"y":216,"s":"b"},
{"x":400,"y":140,"s":"r"},{"x":404,"y":132,"s":"r"},{"x":410,"y":128,"s":"r"},{"x":420,"y":125,"s":"r"},{"x":440,"y":121,"s":"r"},{"x":460,"y":117,"s":"r"},{"x":480,"y":113,"s":"r"},{"x":500,"y":109,"s":"r"},{"x":520,"y":105,"s":"r"},{"x":540,"y":100,"s":"r"},{"x":555,"y":96,"s":"r"},{"x":570,"y":93,"s":"r"},{"x":585,"y":91,"s":"r"},{"x":600,"y":92,"s":"r"},{"x":620,"y":93,"s":"r"},{"x":650,"y":95,"s":"r"},{"x":690,"y":98,"s":"r"},{"x":730,"y":100,"s":"r"},{"x":770,"y":102,"s":"r"},{"x":800,"y":104,"s":"r"},{"x":830,"y":107,"s":"r"},{"x":860,"y":111,"s":"r"},{"x":900,"y":115,"s":"r"},{"x":930,"y":117,"s":"r"},{"x":960,"y":119,"s":"r"},{"x":990,"y":120,"s":"r"},{"x":1010,"y":121,"s":"r"},{"x":1030,"y":120,"s":"r"},{"x":1050,"y":119,"s":"r"},{"x":1070,"y":117,"s":"r"},{"x":1090,"y":115,"s":"r"},{"x":1100,"y":113,"s":"r"},{"x":1115,"y":116,"s":"r"},{"x":1140,"y":120,"s":"r"},{"x":1170,"y":122,"s":"r"},{"x":1210,"y":124,"s":"r"},{"x":1250,"y":125,"s":"r"},{"x":1290,"y":126,"s":"r"},{"x":1330,"y":126,"s":"r"},{"x":1370,"y":126,"s":"r"},{"x":1380,"y":122,"s":"r"},{"x":1386,"y":119,"s":"r"},{"x":1392,"y":124,"s":"r"},{"x":1410,"y":127,"s":"r"},{"x":1440,"y":128,"s":"r"},{"x":1470,"y":126,"s":"r"},{"x":1500,"y":127,"s":"r"},{"x":1530,"y":125,"s":"r"},{"x":1560,"y":124,"s":"r"},{"x":1580,"y":122,"s":"r"},{"x":1600,"y":118,"s":"r"},{"x":1615,"y":113,"s":"r"},{"x":1630,"y":108,"s":"r"},{"x":1640,"y":106,"s":"r"},{"x":1655,"y":111,"s":"r"},{"x":1670,"y":117,"s":"r"},{"x":1690,"y":122,"s":"r"},{"x":1720,"y":124,"s":"r"},{"x":1760,"y":125,"s":"r"},{"x":1800,"y":125,"s":"r"},{"x":1860,"y":124,"s":"r"},{"x":1920,"y":124,"s":"r"},{"x":2000,"y":124,"s":"r"},
{"x":400,"y":78,"s":"k"},{"x":420,"y":80,"s":"k"},{"x":450,"y":79,"s":"k"},{"x":480,"y":80,"s":"k"},{"x":500,"y":82,"s":"k"},{"x":515,"y":80,"s":"k"},{"x":525,"y":74,"s":"k"},{"x":535,"y":64,"s":"k"},{"x":545,"y":54,"s":"k"},{"x":555,"y":44,"s":"k"},{"x":565,"y":34,"s":"k"},{"x":575,"y":27,"s":"k"},{"x":585,"y":26,"s":"k"},{"x":595,"y":30,"s":"k"},{"x":610,"y":37,"s":"k"},{"x":630,"y":43,"s":"k"},{"x":650,"y":48,"s":"k"},{"x":670,"y":52,"s":"k"},{"x":700,"y":57,"s":"k"},{"x":740,"y":62,"s":"k"},{"x":780,"y":67,"s":"k"},{"x":820,"y":71,"s":"k"},{"x":860,"y":74,"s":"k"},{"x":900,"y":77,"s":"k"},{"x":940,"y":79,"s":"k"},{"x":980,"y":80,"s":"k"},{"x":1010,"y":78,"s":"k"},{"x":1040,"y":76,"s":"k"},{"x":1070,"y":73,"s":"k"},{"x":1100,"y":70,"s":"k"},{"x":1120,"y":69,"s":"k"},{"x":1140,"y":70,"s":"k"},{"x":1170,"y":72,"s":"k"},{"x":1210,"y":73,"s":"k"},{"x":1250,"y":74,"s":"k"},{"x":1290,"y":75,"s":"k"},{"x":1330,"y":76,"s":"k"},{"x":1365,"y":75,"s":"k"},{"x":1375,"y":70,"s":"k"},{"x":1382,"y":60,"s":"k"},{"x":1388,"y":66,"s":"k"},{"x":1395,"y":73,"s":"k"},{"x":1410,"y":75,"s":"k"},{"x":1450,"y":75,"s":"k"},{"x":1490,"y":74,"s":"k"},{"x":1530,"y":74,"s":"k"},{"x":1560,"y":72,"s":"k"},{"x":1580,"y":68,"s":"k"},{"x":1600,"y":62,"s":"k"},{"x":1620,"y":54,"s":"k"},{"x":1635,"y":47,"s":"k"},{"x":1645,"y":44,"s":"k"},{"x":1655,"y":47,"s":"k"},{"x":1670,"y":55,"s":"k"},{"x":1690,"y":65,"s":"k"},{"x":1710,"y":72,"s":"k"},{"x":1740,"y":76,"s":"k"},{"x":1780,"y":78,"s":"k"},{"x":1830,"y":78,"s":"k"},{"x":1900,"y":77,"s":"k"},{"x":1950,"y":77,"s":"k"},{"x":2000,"y":76,"s":"k"}
],
"fd":[
{"x":400,"y":281,"s":"g"},{"x":405,"y":284,"s":"g"},{"x":420,"y":281,"s":"g"},{"x":450,"y":282,"s":"g"},{"x":480,"y":281,"s":"g"},{"x":500,"y":280,"s":"g"},{"x":515,"y":279,"s":"g"},{"x":525,"y":275,"s":"g"},{"x":540,"y":267,"s":"g"},{"x":555,"y":258,"s":"g"},{"x":568,"y":251,"s":"g"},{"x":575,"y":250,"s":"g"},{"x":590,"y":253,"s":"g"},{"x":610,"y":257,"s":"g"},{"x":640,"y":261,"s":"g"},{"x":680,"y":266,"s":"g"},{"x":720,"y":270,"s":"g"},{"x":760,"y":274,"s":"g"},{"x":800,"y":277,"s":"g"},{"x":840,"y":280,"s":"g"},{"x":880,"y":282,"s":"g"},{"x":920,"y":283,"s":"g"},{"x":960,"y":282,"s":"g"},{"x":1000,"y":281,"s":"g"},{"x":1020,"y":279,"s":"g"},{"x":1040,"y":275,"s":"g"},{"x":1065,"y":271,"s":"g"},{"x":1085,"y":269,"s":"g"},{"x":1100,"y":270,"s":"g"},{"x":1125,"y":273,"s":"g"},{"x":1150,"y":276,"s":"g"},{"x":1190,"y":279,"s":"g"},{"x":1240,"y":281,"s":"g"},{"x":1290,"y":283,"s":"g"},{"x":1340,"y":283,"s":"g"},{"x":1365,"y":281,"s":"g"},{"x":1372,"y":274,"s":"g"},{"x":1378,"y":267,"s":"g"},{"x":1384,"y":272,"s":"g"},{"x":1395,"y":276,"s":"g"},{"x":1420,"y":274,"s":"g"},{"x":1440,"y":277,"s":"g"},{"x":1460,"y":279,"s":"g"},{"x":1475,"y":281,"s":"g"},{"x":1500,"y":278,"s":"g"},{"x":1530,"y":275,"s":"g"},{"x":1560,"y":271,"s":"g"},{"x":1585,"y":265,"s":"g"},{"x":1605,"y":259,"s":"g"},{"x":1620,"y":256,"s":"g"},{"x":1632,"y":257,"s":"g"},{"x":1645,"y":262,"s":"g"},{"x":1660,"y":271,"s":"g"},{"x":1680,"y":279,"s":"g"},{"x":1700,"y":281,"s":"g"},{"x":1740,"y":282,"s":"g"},{"x":1800,"y":282,"s":"g"},{"x":1850,"y":282,"s":"g"},{"x":1900,"y":281,"s":"g"},{"x":1950,"y":281,"s":"g"},{"x":2000,"y":280,"s":"g"},
{"x":400,"y":212,"s":"b"},{"x":404,"y":218,"s":"b"},{"x":415,"y":210,"s":"b"},{"x":440,"y":208,"s":"b"},{"x":465,"y":205,"s":"b"},{"x":490,"y":208,"s":"b"},{"x":505,"y":209,"s":"b"},{"x":520,"y":206,"s":"b"},{"x":535,"y":203,"s":"b"},{"x":550,"y":197,"s":"b"},{"x":565,"y":190,"s":"b"},{"x":575,"y":188,"s":"b"},{"x":590,"y":190,"s":"b"},{"x":610,"y":194,"s":"b"},{"x":635,"y":198,"s":"b"},{"x":665,"y":201,"s":"b"},{"x":700,"y":204,"s":"b"},{"x":740,"y":208,"s":"b"},{"x":780,"y":211,"s":"b"},{"x":820,"y":214,"s":"b"},{"x":860,"y":217,"s":"b"},{"x":900,"y":219,"s":"b"},{"x":940,"y":220,"s":"b"},{"x":980,"y":218,"s":"b"},{"x":1010,"y":215,"s":"b"},{"x":1040,"y":210,"s":"b"},{"x":1070,"y":204,"s":"b"},{"x":1095,"y":199,"s":"b"},{"x":1110,"y":200,"s":"b"},{"x":1130,"y":203,"s":"b"},{"x":1160,"y":207,"s":"b"},{"x":1200,"y":212,"s":"b"},{"x":1240,"y":216,"s":"b"},{"x":1280,"y":218,"s":"b"},{"x":1320,"y":219,"s":"b"},{"x":1360,"y":217,"s":"b"},{"x":1372,"y":212,"s":"b"},{"x":1380,"y":204,"s":"b"},{"x":1387,"y":210,"s":"b"},{"x":1400,"y":214,"s":"b"},{"x":1430,"y":215,"s":"b"},{"x":1450,"y":218,"s":"b"},{"x":1470,"y":217,"s":"b"},{"x":1500,"y":213,"s":"b"},{"x":1530,"y":208,"s":"b"},{"x":1560,"y":203,"s":"b"},{"x":1585,"y":196,"s":"b"},{"x":1600,"y":191,"s":"b"},{"x":1615,"y":185,"s":"b"},{"x":1627,"y":181,"s":"b"},{"x":1640,"y":186,"s":"b"},{"x":1655,"y":196,"s":"b"},{"x":1670,"y":206,"s":"b"},{"x":1690,"y":213,"s":"b"},{"x":1720,"y":217,"s":"b"},{"x":1760,"y":218,"s":"b"},{"x":1820,"y":218,"s":"b"},{"x":1880,"y":218,"s":"b"},{"x":1940,"y":217,"s":"b"},{"x":2000,"y":216,"s":"b"},
{"x":400,"y":132,"s":"r"},{"x":402,"y":137,"s":"r"},{"x":410,"y":128,"s":"r"},{"x":425,"y":121,"s":"r"},{"x":440,"y":115,"s":"r"},{"x":455,"y":107,"s":"r"},{"x":468,"y":102,"s":"r"},{"x":480,"y":104,"s":"r"},{"x":495,"y":107,"s":"r"},{"x":510,"y":109,"s":"r"},{"x":525,"y":106,"s":"r"},{"x":545,"y":104,"s":"r"},{"x":565,"y":102,"s":"r"},{"x":590,"y":103,"s":"r"},{"x":620,"y":104,"s":"r"},{"x":660,"y":106,"s":"r"},{"x":700,"y":108,"s":"r"},{"x":740,"y":112,"s":"r"},{"x":780,"y":116,"s":"r"},{"x":820,"y":120,"s":"r"},{"x":860,"y":124,"s":"r"},{"x":900,"y":127,"s":"r"},{"x":940,"y":129,"s":"r"},{"x":970,"y":128,"s":"r"},{"x":990,"y":126,"s":"r"},{"x":1010,"y":122,"s":"r"},{"x":1030,"y":115,"s":"r"},{"x":1050,"y":108,"s":"r"},{"x":1070,"y":100,"s":"r"},{"x":1085,"y":95,"s":"r"},{"x":1095,"y":94,"s":"r"},{"x":1110,"y":98,"s":"r"},{"x":1130,"y":106,"s":"r"},{"x":1150,"y":113,"s":"r"},{"x":1175,"y":119,"s":"r"},{"x":1200,"y":123,"s":"r"},{"x":1240,"y":126,"s":"r"},{"x":1280,"y":127,"s":"r"},{"x":1330,"y":127,"s":"r"},{"x":1365,"y":127,"s":"r"},{"x":1375,"y":124,"s":"r"},{"x":1382,"y":121,"s":"r"},{"x":1390,"y":126,"s":"r"},{"x":1420,"y":127,"s":"r"},{"x":1460,"y":126,"s":"r"},{"x":1500,"y":125,"s":"r"},{"x":1540,"y":124,"s":"r"},{"x":1570,"y":123,"s":"r"},{"x":1595,"y":121,"s":"r"},{"x":1615,"y":119,"s":"r"},{"x":1630,"y":118,"s":"r"},{"x":1645,"y":121,"s":"r"},{"x":1665,"y":125,"s":"r"},{"x":1690,"y":127,"s":"r"},{"x":1740,"y":127,"s":"r"},{"x":1800,"y":127,"s":"r"},{"x":1870,"y":127,"s":"r"},{"x":1940,"y":127,"s":"r"},{"x":2000,"y":127,"s":"r"},
{"x":400,"y":80,"s":"k"},{"x":404,"y":86,"s":"k"},{"x":410,"y":80,"s":"k"},{"x":420,"y":76,"s":"k"},{"x":428,"y":68,"s":"k"},{"x":434,"y":52,"s":"k"},{"x":438,"y":49,"s":"k"},{"x":443,"y":60,"s":"k"},{"x":450,"y":68,"s":"k"},{"x":470,"y":69,"s":"k"},{"x":490,"y":71,"s":"k"},{"x":510,"y":74,"s":"k"},{"x":525,"y":77,"s":"k"},{"x":535,"y":72,"s":"k"},{"x":545,"y":56,"s":"k"},{"x":555,"y":40,"s":"k"},{"x":565,"y":26,"s":"k"},{"x":578,"y":17,"s":"k"},{"x":590,"y":13,"s":"k"},{"x":605,"y":11,"s":"k"},{"x":620,"y":14,"s":"k"},{"x":635,"y":22,"s":"k"},{"x":660,"y":33,"s":"k"},{"x":690,"y":47,"s":"k"},{"x":720,"y":59,"s":"k"},{"x":750,"y":67,"s":"k"},{"x":780,"y":72,"s":"k"},{"x":820,"y":75,"s":"k"},{"x":860,"y":75,"s":"k"},{"x":890,"y":73,"s":"k"},{"x":910,"y":68,"s":"k"},{"x":925,"y":55,"s":"k"},{"x":940,"y":38,"s":"k"},{"x":955,"y":22,"s":"k"},{"x":962,"y":19,"s":"k"},{"x":975,"y":24,"s":"k"},{"x":995,"y":30,"s":"k"},{"x":1020,"y":34,"s":"k"},{"x":1045,"y":38,"s":"k"},{"x":1060,"y":40,"s":"k"},{"x":1072,"y":39,"s":"k"},{"x":1084,"y":37,"s":"k"},{"x":1095,"y":42,"s":"k"},{"x":1120,"y":52,"s":"k"},{"x":1150,"y":59,"s":"k"},{"x":1180,"y":62,"s":"k"},{"x":1220,"y":64,"s":"k"},{"x":1270,"y":66,"s":"k"},{"x":1330,"y":66,"s":"k"},{"x":1370,"y":65,"s":"k"},{"x":1378,"y":56,"s":"k"},{"x":1384,"y":48,"s":"k"},{"x":1390,"y":58,"s":"k"},{"x":1400,"y":63,"s":"k"},{"x":1440,"y":62,"s":"k"},{"x":1480,"y":63,"s":"k"},{"x":1520,"y":61,"s":"k"},{"x":1555,"y":57,"s":"k"},{"x":1580,"y":54,"s":"k"},{"x":1600,"y":51,"s":"k"},{"x":1615,"y":46,"s":"k"},{"x":1625,"y":44,"s":"k"},{"x":1640,"y":47,"s":"k"},{"x":1660,"y":57,"s":"k"},{"x":1690,"y":66,"s":"k"},{"x":1730,"y":70,"s":"k"},{"x":1780,"y":71,"s":"k"},{"x":1850,"y":71,"s":"k"},{"x":1920,"y":71,"s":"k"},{"x":2000,"y":70,"s":"k"}
],
"la":[{"x":826,"y":293,"s":"g","t":"FFH-Na₂SO₄+"},{"x":1146,"y":228,"s":"b","t":"FFH-Na₂SO₄"},{"x":726,"y":123,"s":"r","t":"FFH-NaCl"},{"x":849,"y":45,"s":"k","t":"Fe₃O₄"}],
"lb":[{"x":758,"y":296,"s":"g","t":"FFH-Na₂SO₄+(CO₂)"},{"x":803,"y":227,"s":"b","t":"FFH-Na₂SO₄(CO₂)"},{"x":574,"y":144,"s":"r","t":"FFH-NaCl(CO₂)"},{"x":839,"y":56,"s":"k","t":"Fe₃O₄(CO₂)"}],
"lc":[{"x":1268,"y":236,"s":"g","t":"FFH-Na₂SO₄+"},{"x":1280,"y":171,"s":"b","t":"FFH-Na₂SO₄"},{"x":1436,"y":101,"s":"r","t":"FFH-NaCl"},{"x":1070,"y":37,"s":"k","t":"Fe₃O₄"}],
"ld":[{"x":1073,"y":245,"s":"g","t":"FFH-Na₂SO₄+(CO₂)"},{"x":1092,"y":168,"s":"b","t":"FFH-Na₂SO₄(CO₂)"},{"x":1200,"y":100,"s":"r","t":"FFH-NaCl(CO₂)"},{"x":1382,"y":32,"s":"k","t":"Fe₃O₄(CO₂)"}]
},
"spacing":167,
"hconcat":[
{"vconcat":[
{"width":438,"height":322,
"title":{"text":"(a)","orient":"bottom","anchor":"start","frame":"group","dx":-14,"offset":6,"fontSize":30,"baseline":"top"},
"layer":[
{"data":{"name":"ra"},"mark":{"type":"line","strokeWidth":1.5},
"encoding":{"x":{"field":"x","type":"quantitative","scale":{"domain":[0,2000],"nice":false},"axis":{"values":[0,250,500,750,1000,1250,1500,1750,2000],"labelExpr":"datum.value % 500 === 0 ? datum.label : ''","format":"d","title":"Raman shift, cm⁻¹","labelFontSize":26,"titleFontSize":27,"labelPadding":6,"titlePadding":9}},
"y":{"field":"y","type":"quantitative","scale":{"domain":[0,322],"nice":false},"axis":null},
"color":{"field":"s","type":"nominal","scale":{"domain":["g","b","r","k"],"range":["#3aa35f","#1b63d3","#e63b3b","#3a3a3a"]},"legend":null}}},
{"data":{"name":"la"},"mark":{"type":"text","align":"left","baseline":"middle","font":"Liberation Sans","fontWeight":"bold","fontSize":27},
"encoding":{"x":{"field":"x","type":"quantitative"},"y":{"field":"y","type":"quantitative"},"text":{"field":"t"},"color":{"field":"s","type":"nominal","scale":{"domain":["g","b","r","k"],"range":["#3aa35f","#1b63d3","#e63b3b","#3a3a3a"]},"legend":null}}}
]},
{"width":411,"height":307,
"title":{"text":"(c)","orient":"bottom","anchor":"start","frame":"group","dx":-23,"offset":2,"fontSize":30,"baseline":"top"},
"layer":[
{"data":{"name":"fc"},"mark":{"type":"line","strokeWidth":2},
"encoding":{"x":{"field":"x","type":"quantitative","scale":{"domain":[400,2000],"nice":false},"axis":{"values":[400,600,800,1000,1200,1400,1600,1800,2000],"labelExpr":"datum.value % 400 === 0 ? datum.label : ''","format":"d","title":"Wavenumber, cm⁻¹","labelFontSize":24,"titleFontSize":25,"labelPadding":4,"titlePadding":2}},
"y":{"field":"y","type":"quantitative","scale":{"domain":[0,307],"nice":false},"axis":null},
"color":{"field":"s","type":"nominal","scale":{"domain":["g","b","r","k"],"range":["#3aa35f","#1b63d3","#e63b3b","#3a3a3a"]},"legend":null}}},
{"data":{"name":"lc"},"mark":{"type":"text","align":"left","baseline":"middle","font":"Liberation Sans","fontWeight":"bold","fontSize":25},
"encoding":{"x":{"field":"x","type":"quantitative"},"y":{"field":"y","type":"quantitative"},"text":{"field":"t"},"color":{"field":"s","type":"nominal","scale":{"domain":["g","b","r","k"],"range":["#3aa35f","#1b63d3","#e63b3b","#3a3a3a"]},"legend":null}}}
]}
],"spacing":-4,"center":{"column":true,"row":false}},
{"vconcat":[
{"width":446,"height":330,
"title":{"text":"(b)","orient":"bottom","anchor":"start","frame":"group","dx":-9,"offset":9,"fontSize":30,"baseline":"top"},
"layer":[
{"data":{"name":"rb"},"mark":{"type":"line","strokeWidth":1.5},
"encoding":{"x":{"field":"x","type":"quantitative","scale":{"domain":[0,2000],"nice":false},"axis":{"values":[0,250,500,750,1000,1250,1500,1750,2000],"labelExpr":"datum.value % 500 === 0 ? datum.label : ''","format":"d","title":"Raman shift, cm⁻¹","labelFontSize":26,"titleFontSize":27,"labelPadding":3,"titlePadding":2}},
"y":{"field":"y","type":"quantitative","scale":{"domain":[0,330],"nice":false},"axis":null},
"color":{"field":"s","type":"nominal","scale":{"domain":["g","b","r","k"],"range":["#3aa35f","#1b63d3","#e63b3b","#3a3a3a"]},"legend":null}}},
{"data":{"name":"lb"},"mark":{"type":"text","align":"left","baseline":"middle","font":"Liberation Sans","fontWeight":"bold","fontSize":27},
"encoding":{"x":{"field":"x","type":"quantitative"},"y":{"field":"y","type":"quantitative"},"text":{"field":"t"},"color":{"field":"s","type":"nominal","scale":{"domain":["g","b","r","k"],"range":["#3aa35f","#1b63d3","#e63b3b","#3a3a3a"]},"legend":null}}}
]},
{"width":414,"height":304,
"title":{"text":"(d)","orient":"bottom","anchor":"start","frame":"group","dx":-20,"offset":3,"fontSize":30,"baseline":"top"},
"layer":[
{"data":{"name":"fd"},"mark":{"type":"line","strokeWidth":2},
"encoding":{"x":{"field":"x","type":"quantitative","scale":{"domain":[400,2000],"nice":false},"axis":{"values":[400,600,800,1000,1200,1400,1600,1800,2000],"labelExpr":"datum.value % 400 === 0 ? datum.label : ''","format":"d","title":"Wavenumber, cm⁻¹","labelFontSize":24,"titleFontSize":25,"labelPadding":4,"titlePadding":1}},
"y":{"field":"y","type":"quantitative","scale":{"domain":[0,304],"nice":false},"axis":{"orient":"right","labels":false,"ticks":false,"title":null,"domain":true,"domainOpacity":0,"offset":38}},
"color":{"field":"s","type":"nominal","scale":{"domain":["g","b","r","k"],"range":["#3aa35f","#1b63d3","#e63b3b","#3a3a3a"]},"legend":null}}},
{"data":{"name":"ld"},"mark":{"type":"text","align":"left","baseline":"middle","font":"Liberation Sans","fontWeight":"bold","fontSize":25},
"encoding":{"x":{"field":"x","type":"quantitative"},"y":{"field":"y","type":"quantitative","axis":{"orient":"right","labels":false,"ticks":false,"title":null,"domain":true,"domainOpacity":0,"offset":38}},"text":{"field":"t"},"color":{"field":"s","type":"nominal","scale":{"domain":["g","b","r","k"],"range":["#3aa35f","#1b63d3","#e63b3b","#3a3a3a"]},"legend":null}}}
]}
],"spacing":5,"center":{"column":true,"row":false}}
]
}
